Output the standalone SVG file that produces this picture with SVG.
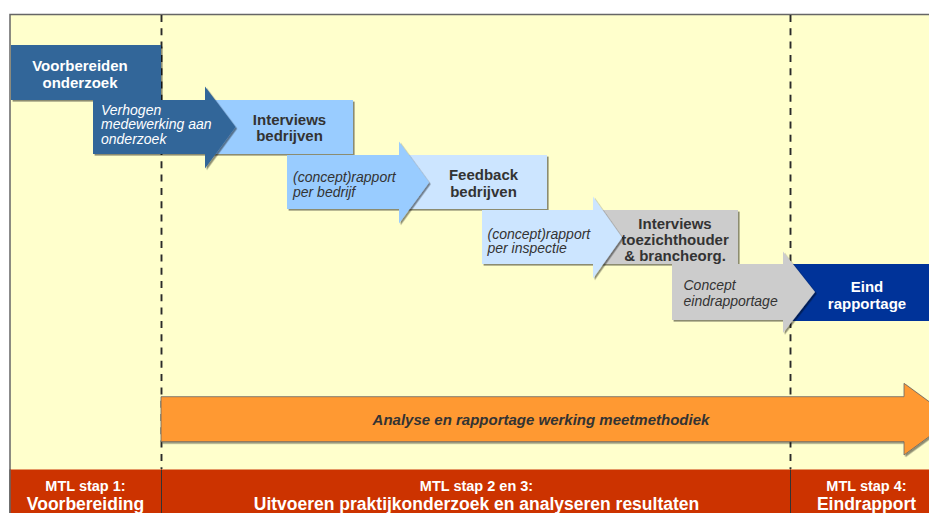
<svg xmlns="http://www.w3.org/2000/svg" width="929" height="513" viewBox="0 0 929 513">
  <defs>
    <filter id="sh" x="-10%" y="-10%" width="130%" height="140%">
      <feDropShadow dx="1.6" dy="1.6" stdDeviation="0.7" flood-color="#000" flood-opacity="0.45"/>
    </filter>
  </defs>
  <style>
    .lbl { font-family: "Liberation Sans", Arial, sans-serif; font-weight: bold; font-size: 15px; text-anchor: middle; }
    .it { font-family: "Liberation Sans", Arial, sans-serif; font-style: italic; font-size: 14px; }
    .dark { fill: #333333; }
    .white { fill: #ffffff; }
    .band { font-family: "Liberation Sans", Arial, sans-serif; font-weight: bold; fill: #ffffff; text-anchor: middle; }
    .dash { stroke: #2a2a2a; stroke-width: 1.9; stroke-dasharray: 7 6.3; fill: none; }
    .div { stroke: #333333; stroke-width: 1; }
  </style>

  <!-- background frame -->
  <rect x="10" y="14.5" width="935" height="520" fill="#FFFFCC" stroke="#666666" stroke-width="1.5"/>

  <!-- phase guides -->
  <g id="guides">
    <line class="dash" x1="161.5" y1="15" x2="161.5" y2="469"/>
    <line class="dash" x1="790.5" y1="15" x2="790.5" y2="469"/>
  </g>

  <!-- boxes -->
  <g id="node-voorbereiden">
    <rect x="11" y="45" width="150" height="55" fill="#336699" filter="url(#sh)"/>
    <text class="lbl white" x="80" y="71">Voorbereiden</text>
    <text class="lbl white" x="80" y="88">onderzoek</text>
  </g>
  <g id="node-interviews-bedrijven">
    <rect x="205" y="100" width="148" height="54" fill="#99CCFF" filter="url(#sh)"/>
    <text class="lbl dark" x="289.5" y="124.5">Interviews</text>
    <text class="lbl dark" x="289.5" y="140.5">bedrijven</text>
  </g>
  <g id="node-feedback-bedrijven">
    <rect x="399" y="155" width="148" height="54" fill="#CCE5FF" filter="url(#sh)"/>
    <text class="lbl dark" x="483.5" y="180">Feedback</text>
    <text class="lbl dark" x="483.5" y="196.5">bedrijven</text>
  </g>
  <g id="node-interviews-toezicht">
    <rect x="593" y="210" width="145" height="54" fill="#CCCCCC" filter="url(#sh)"/>
    <text class="lbl dark" x="675" y="228.5">Interviews</text>
    <text class="lbl dark" x="675" y="244.5">toezichthouder</text>
    <text class="lbl dark" x="675" y="260.5">&amp; brancheorg.</text>
  </g>
  <g id="node-eindrapportage">
    <rect x="783" y="264" width="160" height="57" fill="#003399"/>
    <text class="lbl white" x="867" y="292">Eind</text>
    <text class="lbl white" x="867" y="308.5">rapportage</text>
  </g>

  <!-- step arrows -->
  <g id="connectors">
    <g id="arrow-verhogen">
      <polygon points="93,100 205,100 205,86.5 235.5,127 205,168.5 205,154 93,154" fill="#336699" filter="url(#sh)"/>
      <text class="it white" x="101" y="115">Verhogen</text>
      <text class="it white" x="101" y="129.3">medewerking aan</text>
      <text class="it white" x="101" y="143.6">onderzoek</text>
    </g>
    <g id="arrow-concept-bedrijf">
      <polygon points="287,155 399,155 399,141.5 429,182.5 399,223.5 399,209 287,209" fill="#99CCFF" filter="url(#sh)"/>
      <text class="it dark" x="293" y="182">(concept)rapport</text>
      <text class="it dark" x="293" y="196.5">per bedrijf</text>
    </g>
    <g id="arrow-concept-inspectie">
      <polygon points="482,210 593,210 593,196.5 622,237.5 593,278.5 593,264 482,264" fill="#CCE5FF" filter="url(#sh)"/>
      <text class="it dark" x="487.5" y="238.5">(concept)rapport</text>
      <text class="it dark" x="487.5" y="253">per inspectie</text>
    </g>
    <g id="arrow-concept-eind">
      <polygon points="672,264 783,264 783,251.5 815,292 783,333 783,320 672,320" fill="#CCCCCC" filter="url(#sh)"/>
      <text class="it dark" x="683.5" y="290">Concept</text>
      <text class="it dark" x="683.5" y="305.5">eindrapportage</text>
    </g>
    <g id="arrow-analyse">
      <polygon points="161,396.7 904,396.7 904,383.3 953,419.2 904,455 904,441.7 161,441.7" fill="#FF9933" stroke="#666666" stroke-width="0.8" filter="url(#sh)"/>
      <text class="dark" x="541" y="424.5" font-family="Liberation Sans, Arial, sans-serif" font-weight="bold" font-style="italic" font-size="15" text-anchor="middle">Analyse en rapportage werking meetmethodiek</text>
    </g>
  </g>

  <!-- phase band -->
  <g id="phase-band">
    <rect x="10" y="469.5" width="935" height="50" fill="#CC3300"/>
    <line class="div" x1="161.5" y1="469.5" x2="161.5" y2="513"/>
    <line class="div" x1="790.5" y1="469.5" x2="790.5" y2="513"/>
    <line x1="10" y1="469.5" x2="10" y2="513" stroke="#666666" stroke-width="1.5"/>
  </g>
  <g id="phase-1">
    <text class="band" x="85.5" y="490.7" font-size="14.5">MTL stap 1:</text>
    <text class="band" x="85.5" y="509.5" font-size="17.5">Voorbereiding</text>
  </g>
  <g id="phase-2">
    <text class="band" x="476.5" y="490.7" font-size="14.5">MTL stap 2 en 3:</text>
    <text class="band" x="476.5" y="509.5" font-size="17.5">Uitvoeren praktijkonderzoek en analyseren resultaten</text>
  </g>
  <g id="phase-3">
    <text class="band" x="866.5" y="490.7" font-size="14.5">MTL stap 4:</text>
    <text class="band" x="866.5" y="509.5" font-size="17.5">Eindrapport</text>
  </g>
</svg>
